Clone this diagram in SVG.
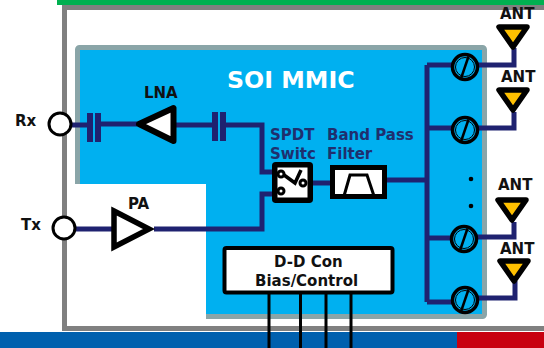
<svg xmlns="http://www.w3.org/2000/svg" width="544" height="348" viewBox="0 0 544 348">
<style>
text{font-family:"DejaVu Sans","Liberation Sans",sans-serif;font-weight:bold;font-size:15px;fill:#111}
.w{fill:none;stroke:#1f2270;stroke-width:5}
.plate{fill:#1f2270}
.ps{fill:#00b0f0;stroke:#000;stroke-width:3.500}
.sl{stroke:#000;stroke-width:2.500;fill:none}
.ant{fill:#ffc000;stroke:#000;stroke-width:5.500;stroke-linejoin:round}
.port{fill:#fff;stroke:#000;stroke-width:3}
.ctl{stroke:#000;stroke-width:3;fill:none}
</style>
<defs>
<g id="phase"><circle r="12.500" class="ps"/><circle r="9.500" fill="none" stroke="#000" stroke-width="1"/><path class="sl" d="M-4 11.500L3.500 -10.500"/></g>
<polygon id="antTri" class="ant" points="-14,3 14,3 0,23"/>
</defs>
<rect width="544" height="348" fill="#fff"/>
<g id="frame">
<rect x="57" y="0" width="487" height="5" fill="#00b050"/>
<rect x="0" y="332" width="457" height="16" fill="#0060ae"/>
<rect x="457" y="332" width="87" height="16" fill="#c8000f"/>
<path d="M560 7.500H64.500V328.500H560" fill="none" stroke="#808080" stroke-width="5"/>
</g>
<g id="chip">
<rect x="77.500" y="47.500" width="407" height="269" rx="2" fill="#00b0f0" stroke="#8aa5a8" stroke-width="5"/>
<rect x="67" y="184" width="139" height="138" fill="#fff"/>
<text x="227" y="88" style="font-size:23.700px;fill:#fff">SOI MMIC</text>
</g>
<g id="connectors">
<path class="w" d="M72 125H87M101 124H137M176 125H212M226 125H262V172H278"/>
<path class="w" d="M75 229H115M154 229H262V194H276"/>
<path class="w" d="M308 183H331M386 180H427M427 65V302M427 65H453M427 128H453M427 238H452M427 302H453"/>
<path class="w" d="M477 65H514V48M477 128H514V112M476 237H514V222M477 298H515V281"/>
<path class="ctl" d="M269 294V348M300.500 294V348M326 294V348M351 294V348"/>
</g>
<g id="rx"><circle cx="60" cy="124" r="11" class="port"/><text x="15" y="126">Rx</text></g>
<g id="tx"><circle cx="64" cy="228" r="11" class="port"/><text x="21" y="230">Tx</text></g>
<g id="cap1"><rect class="plate" x="87" y="113" width="6" height="29"/><rect class="plate" x="95" y="113" width="6" height="29"/></g>
<g id="cap2"><rect class="plate" x="212" y="112" width="6" height="29"/><rect class="plate" x="220" y="112" width="6" height="29"/></g>
<g id="lna"><polygon points="139,124 173.500,108 173.500,141" fill="#fff" stroke="#000" stroke-width="6" stroke-linejoin="round"/><text x="144" y="98">LNA</text></g>
<g id="pa"><polygon points="114,211 149,229 114,247" fill="#fff" stroke="#000" stroke-width="5.500"/><text x="128" y="209">PA</text></g>
<g id="switch">
<rect x="274.750" y="164.750" width="35.500" height="35.500" rx="1" fill="#fff" stroke="#000" stroke-width="5.500"/>
<circle cx="281" cy="174" r="3" fill="#fff" stroke="#000" stroke-width="3"/>
<circle cx="281" cy="191" r="3" fill="#fff" stroke="#000" stroke-width="3"/>
<circle cx="303" cy="183" r="3" fill="#fff" stroke="#000" stroke-width="3"/>
<path d="M284 175L295 183L301 170" fill="none" stroke="#000" stroke-width="3.500"/>
<text x="270" y="140" style="fill:#1f2f6e">SPDT</text>
<text x="270" y="159" style="fill:#1f2f6e">Switc</text>
</g>
<g id="filter">
<rect x="332.500" y="167.500" width="52" height="29" fill="#fff" stroke="#000" stroke-width="5"/>
<path d="M344 196L350 175H367L374 196" fill="none" stroke="#000" stroke-width="3"/>
<text x="327" y="140" style="fill:#1f2f6e">Band Pass</text>
<text x="327" y="159" style="fill:#1f2f6e">Filter</text>
</g>
<g id="ddcon">
<rect x="224.500" y="248" width="168" height="44.500" rx="2" fill="#fff" stroke="#000" stroke-width="4"/>
<text x="274" y="267">D-D Con</text>
<text x="255" y="286">Bias/Control</text>
</g>
<g id="ps1"><use href="#phase" x="465" y="67"/></g>
<g id="ps2"><use href="#phase" x="465" y="130"/></g>
<g id="ps3"><use href="#phase" x="464" y="239"/></g>
<g id="ps4"><use href="#phase" x="465" y="300"/></g>
<g id="dots"><circle cx="471" cy="179" r="2.300"/><circle cx="471" cy="206" r="2.300"/></g>
<g id="ant1"><use href="#antTri" x="513" y="24"/><text x="500" y="19">ANT</text></g>
<g id="ant2"><use href="#antTri" x="513" y="87"/><text x="501" y="82">ANT</text></g>
<g id="ant3"><use href="#antTri" x="512" y="197"/><text x="498" y="190">ANT</text></g>
<g id="ant4"><use href="#antTri" x="514" y="258"/><text x="500" y="254">ANT</text></g>
</svg>
